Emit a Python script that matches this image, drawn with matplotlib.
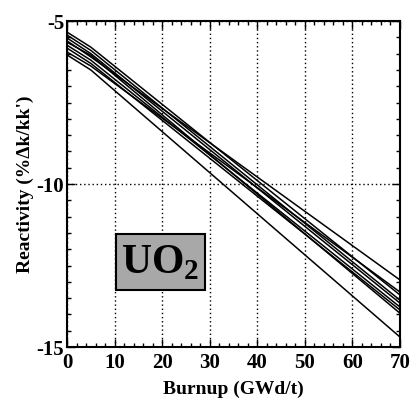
import matplotlib
matplotlib.use("Agg")
import matplotlib.pyplot as plt
from matplotlib.patches import Rectangle
from matplotlib.ticker import MultipleLocator

plt.rcParams['font.family'] = 'Liberation Serif'
plt.rcParams['font.weight'] = 'bold'
plt.rcParams['axes.unicode_minus'] = False
plt.rcParams['mathtext.fontset'] = 'custom'
plt.rcParams['mathtext.rm'] = 'Liberation Serif:bold'
plt.rcParams['mathtext.bf'] = 'Liberation Serif:bold'

# burnup points (GWd/t)
burnup = [0, 5, 70]

# reactivity curves (%dk/kk')
r1 = [-5.34, -5.80, -13.40]
r2 = [-5.43, -5.90, -13.56]
r3 = [-5.52, -6.00, -13.65]
r4 = [-5.61, -6.10, -12.94]
r5 = [-5.74, -6.20, -13.77]
r6 = [-5.83, -6.30, -13.86]
r7 = [-5.95, -6.38, -13.31]
r8 = [-6.04, -6.50, -14.69]
r9 = [-5.65, -6.05, -13.96]
curves = [r1, r2, r3, r4, r5, r6, r7, r8, r9]

fig = plt.figure(figsize=(4.14, 4.05), dpi=100)
ax = fig.add_axes([0.162, 0.143, 0.804, 0.805])

for r in curves:
    ax.plot(burnup, r, color='black', lw=1.1)

ax.set_xlim(0, 70)
ax.set_ylim(-15, -5)
ax.xaxis.set_major_locator(MultipleLocator(10))
ax.xaxis.set_minor_locator(MultipleLocator(2))
ax.yaxis.set_major_locator(MultipleLocator(5))
ax.yaxis.set_minor_locator(MultipleLocator(0.5))
ax.tick_params(which='both', direction='in', top=True, right=True, width=1)
ax.tick_params(which='major', length=6, labelsize=15)
ax.tick_params(axis='x', which='major', pad=4)
ax.tick_params(axis='y', which='major', pad=2)
ax.tick_params(which='minor', length=3)
for s in ax.spines.values():
    s.set_linewidth(1.5)
ax.grid(True, which='major', color='black', linestyle=(0, (1, 2)), linewidth=1)

ax.set_xlabel('Burnup (GWd/t)', fontsize=14, fontweight='bold', labelpad=6)
ax.set_ylabel("Reactivity (%\u0394k/kk')", fontsize=14, fontweight='bold', labelpad=2)

# UO2 label box
ax.add_patch(Rectangle((10.3, -13.25), 18.7, 1.72, facecolor='#a8a8a8',
                       edgecolor='black', linewidth=1.5, zorder=3))
ax.text(19.6, -12.4, r'UO$_{2}$', fontsize=30, ha='center', va='center', zorder=4)

fig.savefig('out.png', dpi=100)
